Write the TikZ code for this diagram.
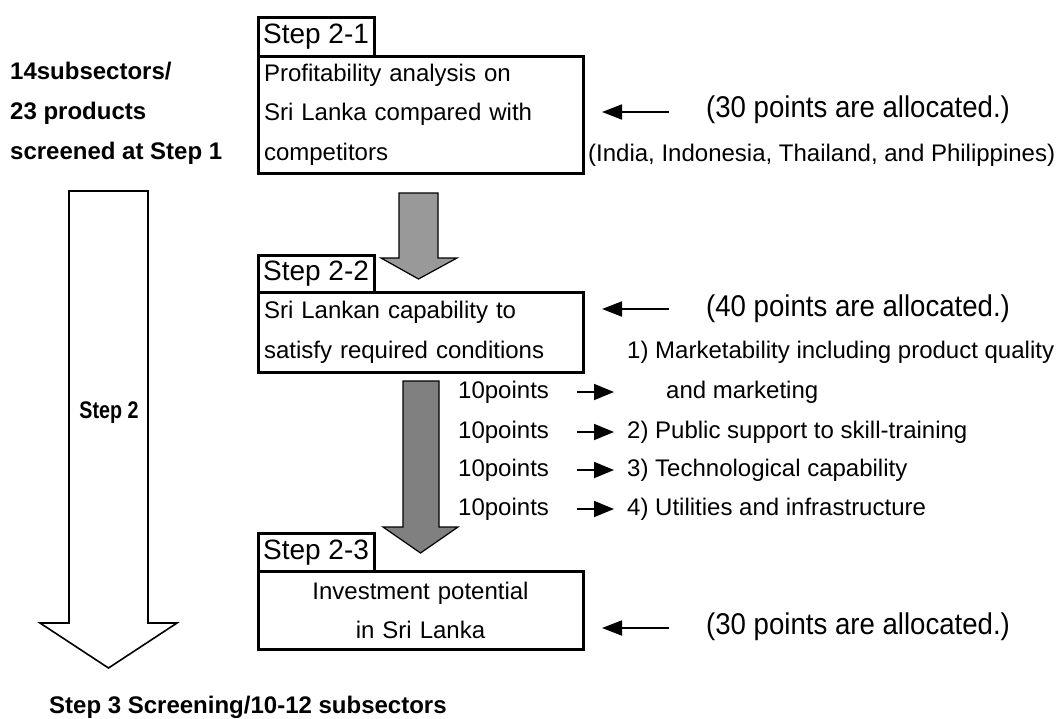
\documentclass[tikz,border=0pt]{standalone}
\usepackage{fontspec}
\setmainfont{Liberation Sans}
\newfontfamily\narrowbold{Liberation Sans Bold}[FakeStretch=0.82]
\newfontfamily\allocfont{Liberation Sans}[FakeStretch=0.92]
\usetikzlibrary{arrows.meta}

\definecolor{arrowlight}{HTML}{999999}
\definecolor{arrowdark}{HTML}{808080}

\begin{document}
\begin{tikzpicture}[x=1pt, y=-1pt,
  tabbox/.style={draw, line width=3pt, fill=white, anchor=north west,
    minimum width=116pt, inner sep=0pt, font=\fontsize{28}{30}\selectfont},
  panel/.style={draw, line width=3pt, anchor=north west, minimum width=325pt,
    inner xsep=6pt, inner ysep=0pt, text width=313pt,
    font=\fontsize{24}{39.5}\selectfont},
  note/.style={anchor=west, inner sep=0pt, font=\fontsize{24}{28}\selectfont},
  alloc/.style={anchor=west, inner sep=0pt, font=\allocfont\fontsize{30}{34}\selectfont},
  backarrow/.style={line width=1.8pt, -{Triangle[length=20pt,width=15pt]}},
  itemarrow/.style={line width=1.8pt, -{Triangle[length=20pt,width=16pt]}},
  flowarrow/.style={draw=black, line width=1.2pt, line join=miter},
]
\useasboundingbox (0,0) rectangle (1056,718);

% ---- overall Step 2 arrow on the left ----
\draw[line width=1.6pt, fill=white, line join=miter]
  (69,191) -- (148,191) -- (148,623) -- (177,623) -- (108.5,668)
  -- (40,623) -- (69,623) -- cycle;
\node[inner sep=0pt, font=\narrowbold\fontsize{24}{26}\selectfont] (step2) at (109,413) {Step 2};

\node[anchor=west, inner sep=0pt, align=left, font=\bfseries\fontsize{24}{40}\selectfont]
  (intro) at (10,113) {14subsectors/\\23 products\\screened at Step 1};

\node[anchor=west, inner sep=0pt, font=\bfseries\fontsize{24}{28}\selectfont]
  (step3) at (49,707) {Step 3 Screening/10-12 subsectors};

% ---- Step 2-1 ----
\node[panel, minimum height=117pt, align=left] (b21) at (256.5,54.5)
  {Profitability analysis on\\Sri Lanka compared with\\competitors};
\node[tabbox, minimum height=39pt] (t21) at (256.5,15.5) {Step 2-1};

% ---- Step 2-2 ----
\node[panel, minimum height=79.5pt, align=left] (b22) at (256.5,291)
  {Sri Lankan capability to\\satisfy required conditions};
\node[tabbox, minimum height=37.5pt] (t22) at (256.5,253.5) {Step 2-2};

% ---- Step 2-3 ----
\node[panel, minimum height=77.5pt, align=center] (b23) at (256.5,570)
  {Investment potential\\in Sri Lanka};
\node[tabbox, minimum height=38.5pt] (t23) at (256.5,531.5) {Step 2-3};

% ---- flow arrows between the steps ----
\draw[flowarrow, fill=arrowlight]
  (399,193) -- (438,193) -- (438,258) -- (457,258) -- (418.5,279)
  -- (381,258) -- (399,258) -- cycle;
\draw[flowarrow, fill=arrowdark]
  (403,381) -- (439,381) -- (439,527) -- (458,527) -- (420.5,553)
  -- (383,527) -- (403,527) -- cycle;

% ---- point allocations ----
\coordinate (p1s) at (669,112);  \coordinate (p1e) at (602,112);
\coordinate (p2s) at (669,309);  \coordinate (p2e) at (602,309);
\coordinate (p3s) at (669,628);  \coordinate (p3e) at (602,628);
\draw[backarrow] (p1s) -- (p1e);
\draw[backarrow] (p2s) -- (p2e);
\draw[backarrow] (p3s) -- (p3e);

\node[alloc] (a1) at (706,110) {(30 points are allocated.)};
\node[note] (comp) at (588,155) {(India, Indonesia, Thailand, and Philippines)};
\node[alloc] (a2) at (706,309) {(40 points are allocated.)};
\node[alloc] (a3) at (706,627) {(30 points are allocated.)};

% ---- criteria of Step 2-2 ----
\node[note] (c1) at (627,352) {1) Marketability including product quality};
\node[note] (c1b) at (666,392) {and marketing};
\node[note] (c2) at (627,432) {2) Public support to skill-training};
\node[note] (c3) at (627,470) {3) Technological capability};
\node[note] (c4) at (627,509) {4) Utilities and infrastructure};

\node[note] (w1) at (458,392) {10points};
\node[note] (w2) at (458,432) {10points};
\node[note] (w3) at (458,470) {10points};
\node[note] (w4) at (458,509) {10points};

\coordinate (i1s) at (577,392); \coordinate (i1e) at (614,392);
\coordinate (i2s) at (577,432); \coordinate (i2e) at (614,432);
\coordinate (i3s) at (577,470); \coordinate (i3e) at (614,470);
\coordinate (i4s) at (577,509); \coordinate (i4e) at (614,509);
\draw[itemarrow] (i1s) -- (i1e);
\draw[itemarrow] (i2s) -- (i2e);
\draw[itemarrow] (i3s) -- (i3e);
\draw[itemarrow] (i4s) -- (i4e);
\end{tikzpicture}
\end{document}
